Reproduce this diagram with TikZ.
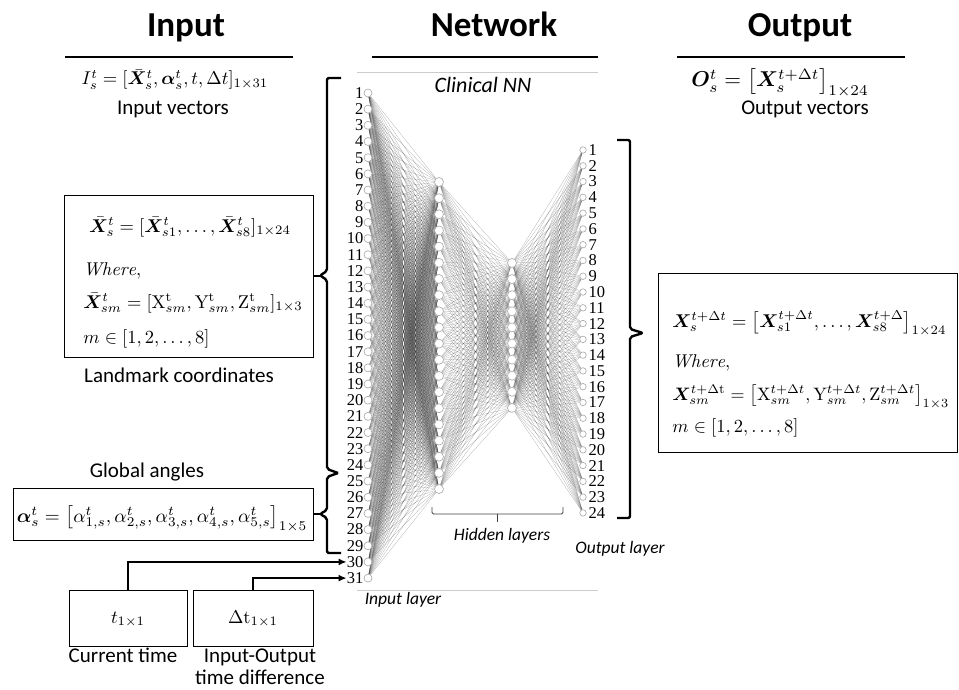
\documentclass[tikz,border=0pt]{standalone}
\usepackage{amsmath,bm}
\usepackage{fontspec}
\setsansfont{Carlito}
\newfontfamily\numfont{Liberation Serif}
\usetikzlibrary{arrows.meta,backgrounds}
\begin{document}
\begin{tikzpicture}[x=1pt,y=-1pt,
 box/.style={draw, line width=0.8pt, rectangle, inner sep=0},
 ttl/.style={font=\sffamily\bfseries\fontsize{35}{38}\selectfont, anchor=base, inner sep=0},
 lbl/.style={font=\sffamily\fontsize{21}{24}\selectfont, anchor=base, inner sep=0},
 ilbl/.style={font=\sffamily\itshape\fontsize{17.5}{20}\selectfont, anchor=base, inner sep=0},
 eq/.style={scale=1.85, anchor=base, inner sep=0},
 eqw/.style={eq, anchor=base west},
 num/.style={font=\numfont\fontsize{16.5}{16.5}\selectfont, inner sep=0},
 neuron/.style={circle, draw=gray!70, fill=white, line width=0.6pt, inner sep=0, minimum size=8pt},
 oneuron/.style={neuron, minimum size=6.5pt},
 hneuron/.style={neuron, minimum size=9pt},
 edge/.style={black!80, line width=0.2pt, opacity=0.45},
 brk/.style={line width=2.4pt, line join=round},
 arr/.style={line width=2pt, -{Latex[length=8pt,width=7pt]}},
 rule/.style={line width=2.2pt},
 thin rule/.style={gray!40, line width=0.7pt},
]
\useasboundingbox (0,0) rectangle (959,690);

% titles
\node[ttl] (tin) at (186,37) {Input};
\node[ttl] (tnet) at (494,37) {Network};
\node[ttl] (tout) at (800,37) {Output};
\draw[rule] (65,57) -- (293,57);
\draw[rule] (372,57) -- (598,57);
\draw[rule] (677,57) -- (905,57);
\draw[thin rule] (357,72) -- (598,72);
\draw[thin rule] (357,590) -- (598,590);

% input header
\node[eq] (ieq) at (175,85) {$I_s^t=[\bar{\bm X}_s^t,\bm\alpha_s^t,t,\Delta t]_{1\times 31}$};
\node[lbl] (ivec) at (173,115) {Input vectors};
% output header
\node[eq, scale=2.15/1.85] (oeq) at (780,87) {$\bm O_s^t=\left[\bm X_s^{t+\Delta t}\right]_{1\times 24}$};
\node[lbl] (ovec) at (805,115) {Output vectors};

% box 1
\node[box, minimum width=249pt, minimum height=162pt] (box1) at (188.5,276) {};
\node[eq] (b1l1) at (190,232) {$\bar{\bm X}_s^t=[\bar{\bm X}_{s1}^t,\dots,\bar{\bm X}_{s8}^t]_{1\times 24}$};
\node[eqw] (b1l2) at (83,275) {$\mathit{Where},$};
\node[eqw] (b1l3) at (83,308) {$\bar{\bm X}_{sm}^t=[\mathrm{X}_{sm}^{\mathrm t},\mathrm{Y}_{sm}^{\mathrm t},\mathrm{Z}_{sm}^{\mathrm t}]_{1\times 3}$};
\node[eqw] (b1l4) at (83,343) {$m\in[1,2,\dots,8]$};
\node[lbl] (landm) at (179,382) {Landmark coordinates};

% box 2
\node[lbl] (gang) at (147,477) {Global angles};
\node[box, minimum width=300pt, minimum height=52pt] (box2) at (163,514) {};
\node[eq, scale=1.92/1.85] (b2l1) at (162,522) {$\bm\alpha_s^t=\left[\alpha_{1,s}^t,\alpha_{2,s}^t,\alpha_{3,s}^t,\alpha_{4,s}^t,\alpha_{5,s}^t\right]_{1\times 5}$};

% time boxes
\node[box, minimum width=118pt, minimum height=56pt] (tbox) at (128,618) {};
\node[eq] (teq) at (128,623) {$t_{1\times 1}$};
\node[box, minimum width=120pt, minimum height=56pt] (dtbox) at (253,618) {};
\node[eq] (dteq) at (253,623) {$\Delta\mathrm{t}_{1\times 1}$};
\node[lbl] (ctime) at (123,662) {Current time};
\node[lbl] (iot1) at (260,662) {Input-Output};
\node[lbl] (iot2) at (260,684) {time difference};

% right box
\node[box, minimum width=299pt, minimum height=179pt] (box3) at (807.5,362.5) {};
\node[eqw] (b3l1) at (672,327) {$\bm X_s^{t+\Delta t}=\left[\bm X_{s1}^{t+\Delta t},\dots,\bm X_{s8}^{t+\Delta}\right]_{1\times 24}$};
\node[eqw] (b3l2) at (672,367) {$\mathit{Where},$};
\node[eqw, scale=1.8/1.85] (b3l3) at (672,400) {$\bm X_{sm}^{t+\Delta\mathrm t}=\left[\mathrm X_{sm}^{t+\Delta t},\mathrm Y_{sm}^{t+\Delta t},\mathrm Z_{sm}^{t+\Delta t}\right]_{1\times 3}$};
\node[eqw] (b3l4) at (672,432) {$m\in[1,2,\dots,8]$};

% network nodes
\foreach \i in {1,...,31} {
  \node[neuron] (in\i) at (368,{93+(\i-1)*16.17}) {};
  \node[num, anchor=east] (lab\i) at (363.5,{93+(\i-1)*16.17}) {\i};
}
\foreach \i in {1,...,20} \node[hneuron] (ha\i) at (439,{182+(\i-1)*16.16}) {};
\foreach \i in {1,...,10} \node[hneuron] (hb\i) at (512,{263+(\i-1)*16.1}) {};
\foreach \i in {1,...,24} {
  \node[oneuron] (o\i) at (583,{150+(\i-1)*15.78}) {};
  \node[num, anchor=west] (olab\i) at (588.5,{150+(\i-1)*15.78}) {\i};
}
\begin{scope}[on background layer]
\foreach \i in {1,...,31} \foreach \j in {1,...,20} \draw[edge] (in\i) -- (ha\j);
\foreach \i in {1,...,20} \foreach \j in {1,...,10} \draw[edge] (ha\i) -- (hb\j);
\foreach \i in {1,...,10} \foreach \j in {1,...,24} \draw[edge] (hb\i) -- (o\j);
\end{scope}

\node[font=\sffamily\itshape\fontsize{22}{24}\selectfont, inner sep=0] (cnn) at (483,85) {Clinical NN};
\node[ilbl] (hid) at (502,540) {Hidden layers};
\node[ilbl] (inl) at (403,604) {Input layer};
\node[ilbl] (outl) at (620,553) {Output layer};
\draw[line width=0.8pt, black!75, rounded corners=1.5pt] (432,507) -- (432,514) -- (563,514) -- (563,507);
\draw[line width=0.8pt, black!75] (497,514) -- (497,522);

% braces
\draw[brk, rounded corners=2pt] (341,78) -- (327,78) -- (327,271) -- (320,275.5) -- (327,280) -- (327,469) -- (338,473);
\draw[brk, rounded corners=2pt] (338,473) -- (327,477) -- (327,510) -- (320,514) -- (327,518) -- (327,553) -- (341,553);
\draw[brk] (box1.east) -- (320,276);
\draw[brk] (box2.east) -- (320,514);
\draw[brk, rounded corners=2pt] (617,140) -- (630,140) -- (630,329) -- (643,333) -- (630,337) -- (630,518) -- (617,518);

% arrows
\draw[arr] (tbox.north) |- (lab30.west);
\draw[arr] (dtbox.north) |- (lab31.west);
\end{tikzpicture}
\end{document}
